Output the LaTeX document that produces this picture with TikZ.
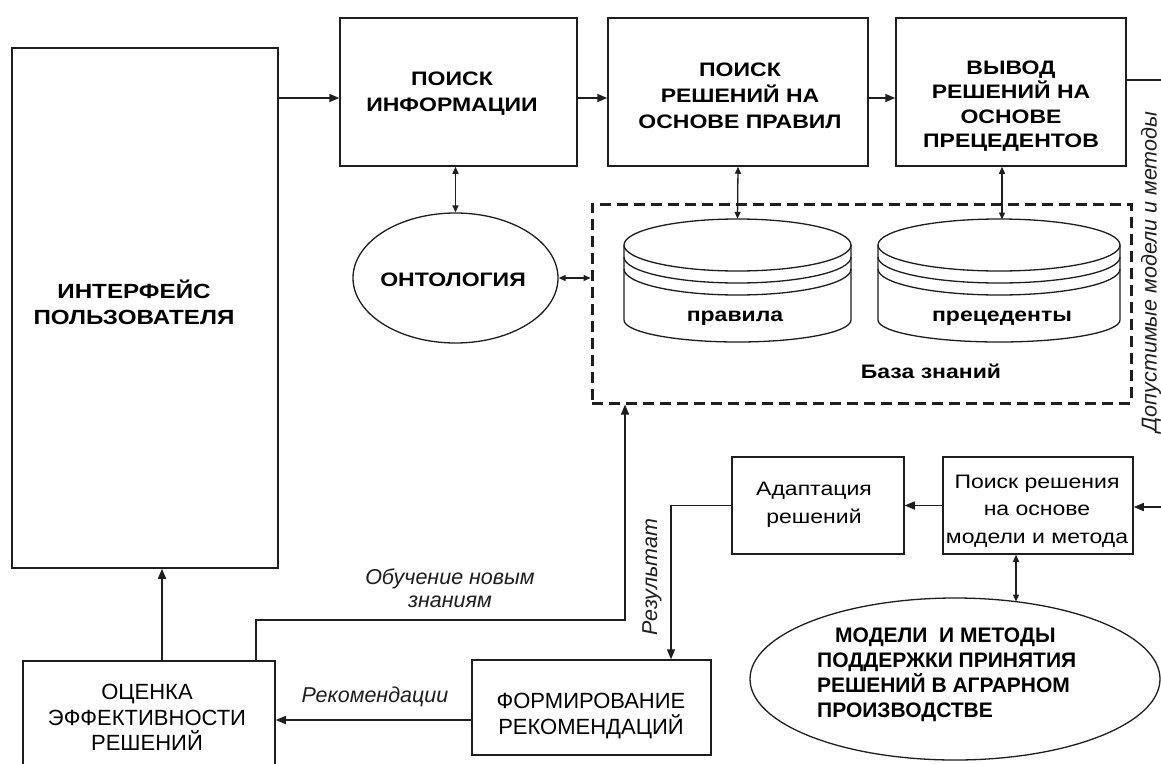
\documentclass[tikz,border=0pt]{standalone}
\usepackage{fontspec}
\setmainfont{Liberation Sans}
\newfontfamily\widefam[FakeStretch=1.18]{Liberation Sans}
\usetikzlibrary{arrows.meta,shapes.geometric}
\definecolor{ink}{HTML}{1E1E1E}
\tikzset{
  blk/.style={draw=ink, line width=1.5pt, rectangle, inner sep=0pt},
  bigtxt/.style={font=\widefam\bfseries\fontsize{19.5}{26}\selectfont, align=center, inner sep=0pt, text=black},
  regtxt/.style={font=\widefam\fontsize{19.5}{27.5}\selectfont, align=center, inner sep=0pt, text=black},
  nartxt/.style={font=\fontsize{22}{25.5}\selectfont, align=center, inner sep=0pt, text=black},
  ovtxt/.style={font=\bfseries\fontsize{21}{25}\selectfont, align=left, inner sep=0pt, text=black},
  lbl/.style={font=\itshape\fontsize{21.5}{23}\selectfont, align=center, inner sep=0pt, text=ink},
  arr/.style={draw=ink, line width=1.5pt, -{Triangle[length=10pt,width=8pt]}},
  dbl/.style={draw=ink, line width=1.3pt, {Triangle[length=7pt,width=6pt]}-{Triangle[length=7pt,width=6pt]}},
  cyl/.style={draw=ink, line width=1.3pt},
}
\begin{document}
\begin{tikzpicture}[x=1pt,y=-1pt]
\useasboundingbox (0,0) rectangle (1161,763);
\clip (0,0) rectangle (1161,763);
\fill[white] (0,0) rectangle (1161,763);

% ---- boxes
\node[blk, minimum width=266pt, minimum height=520pt] (iface) at (145,308) {};
\node[bigtxt, font=\fontsize{20.5}{26}\selectfont\widefam\bfseries] (ifacet) at (134,302) {ИНТЕРФЕЙС\\ПОЛЬЗОВАТЕЛЯ};

\node[blk, minimum width=237pt, minimum height=148pt] (box1) at (458.5,92) {};
\node[bigtxt] (box1t) at (452,94) {ПОИСК\\ИНФОРМАЦИИ};

\node[blk, minimum width=260pt, minimum height=148pt] (box2) at (738,92) {};
\node[bigtxt] (box2t) at (740,96) {ПОИСК\\РЕШЕНИЙ НА\\ОСНОВЕ ПРАВИЛ};

\node[blk, minimum width=230pt, minimum height=148pt] (box3) at (1011,92) {};
\node[bigtxt, font=\widefam\bfseries\fontsize{19.5}{24.5}\selectfont] (box3t) at (1011,106) {ВЫВОД\\РЕШЕНИЙ НА\\ОСНОВЕ\\ПРЕЦЕДЕНТОВ};

\node[blk, minimum width=252pt, minimum height=130pt] (oc) at (149,726) {};
\node[nartxt] (oct) at (147,717.5) {ОЦЕНКА\\ЭФФЕКТИВНОСТИ\\РЕШЕНИЙ};

\node[blk, minimum width=239pt, minimum height=95pt] (form) at (591.5,707.5) {};
\node[nartxt] (formt) at (591,716) {ФОРМИРОВАНИЕ\\РЕКОМЕНДАЦИЙ};

\node[blk, minimum width=172pt, minimum height=97pt] (adapt) at (818,505.5) {};
\node[regtxt] (adaptt) at (814,505) {Адаптация\\решений};

\node[blk, minimum width=190pt, minimum height=97pt] (poisk) at (1038,505.5) {};
\node[regtxt] (poiskt) at (1037,511) {Поиск решения\\на основе\\модели и метода};

% ---- ellipses
\node[draw=ink, line width=1.3pt, ellipse, minimum width=205pt, minimum height=130pt, inner sep=0pt] (ont) at (455.5,278) {};
\node[bigtxt] (ontt) at (453,280) {ОНТОЛОГИЯ};

\node[draw=ink, line width=1.3pt, ellipse, minimum width=410pt, minimum height=162pt, inner sep=0pt] (mm) at (955,679) {};
\node[ovtxt, anchor=west] (mmt) at (817,675) {\hspace*{18pt}МОДЕЛИ\ \ И МЕТОДЫ\\ПОДДЕРЖКИ ПРИНЯТИЯ\\РЕШЕНИЙ В АГРАРНОМ\\ПРОИЗВОДСТВЕ};

% ---- knowledge base
\node[draw=ink, line width=3pt, dash pattern=on 11pt off 6pt, rectangle, minimum width=539pt, minimum height=199pt, inner sep=0pt] (kb) at (861.5,303.5) {};
\node[bigtxt] (kbt) at (931,371) {База знаний};

% cylinder 1
\draw[cyl] (624,245) arc[start angle=180, end angle=-180, x radius=113.5, y radius=26];
\draw[cyl] (624,257) arc[start angle=180, end angle=0, x radius=113.5, y radius=26];
\draw[cyl] (624,269) arc[start angle=180, end angle=0, x radius=113.5, y radius=26];
\draw[cyl] (624,245) -- (624,320) arc[start angle=180, end angle=0, x radius=113.5, y radius=22] -- (851,245);
\node[minimum width=227pt, minimum height=123pt, inner sep=0pt] (cyl1) at (737.5,280.5) {};
\node[bigtxt] (cyl1t) at (735,318) {правила};

% cylinder 2
\draw[cyl] (878,245) arc[start angle=180, end angle=-180, x radius=121, y radius=26];
\draw[cyl] (878,257) arc[start angle=180, end angle=0, x radius=121, y radius=26];
\draw[cyl] (878,269) arc[start angle=180, end angle=0, x radius=121, y radius=26];
\draw[cyl] (878,245) -- (878,320) arc[start angle=180, end angle=0, x radius=121, y radius=22] -- (1120,245);
\node[minimum width=242pt, minimum height=123pt, inner sep=0pt] (cyl2) at (999,280.5) {};
\node[bigtxt] (cyl2t) at (1002,318) {прецеденты};

% ---- helper coordinates
\coordinate (y98) at (0,98);
\coordinate (y80) at (0,80);
\coordinate (y507) at (0,507);
\coordinate (y720) at (0,720);
\coordinate (x162) at (162,0);
\coordinate (rt) at (1166,80);
\coordinate (rb) at (1166,507);
\coordinate (rz) at (671,505.5);
\coordinate (l1) at (256,620);
\coordinate (l2) at (625,620);
\coordinate (c2a) at (1002,219.5);
\coordinate (mmtop) at (1016,601.5);

% ---- connectors
\draw[arr] (iface.east |- y98) -- (box1.west |- y98);
\draw[arr] (box1.east |- y98) -- (box2.west |- y98);
\draw[arr] (box2.east |- y98) -- (box3.west |- y98);
\draw[arr] (box3.east |- y80) -- (rt) -- (rb) -- (poisk.east |- y507);

\draw[dbl] (ont.north |- box1.south) -- (ont.north);
\draw[dbl] (ont.east) -- (kb.west |- ont.east);
\draw[dbl] (box2.south) -- (cyl1.north);
\draw[dbl] (box3.south -| c2a) -- (c2a);

\draw[arr] (poisk.west) -- (adapt.east);
\draw[arr] (adapt.west) -- (rz) -- (rz |- form.north);
\draw[arr] (form.west |- y720) -- (oc.east |- y720);
\draw[arr] (oc.north -| x162) -- (iface.south -| x162);
\draw[arr] (oc.north -| l1) -- (l1) -- (l2) -- (l2 |- kb.south);
\draw[dbl] (poisk.south -| mmtop) -- (mmtop);

% ---- labels
\node[lbl] (lobuch) at (450,588.5) {Обучение новым\\знаниям};
\node[lbl] (lrek) at (375,697) {Рекомендации};
\node[lbl, rotate=90] (lres) at (652,577) {Результат};
\node[lbl, rotate=90] (ldop) at (1151,272) {Допустимые модели и методы};
\end{tikzpicture}
\end{document}
